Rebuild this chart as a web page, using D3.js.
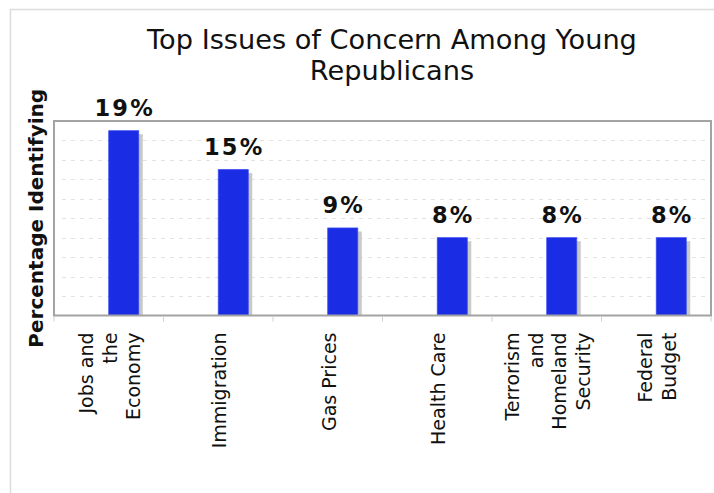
<!DOCTYPE html>
<html>
<head>
<meta charset="utf-8">
<script src="https://cdn.jsdelivr.net/npm/d3@7"></script>
<style>
  html, body { margin: 0; padding: 0; background: #fff; }
  svg { display: block; font-family: "DejaVu Sans", Verdana, sans-serif; }
</style>
</head>
<body>
<svg id="chart" width="714" height="493"></svg>
<script>
const titleLines = ["Top Issues of Concern Among Young", "Republicans"];
const yAxisTitle = "Percentage Identifying";
const categories = ["Jobs and\nthe\nEconomy", "Immigration", "Gas Prices", "Health Care", "Terrorism\nand\nHomeland\nSecurity", "Federal\nBudget"];
const values = [19, 15, 9, 8, 8, 8];
const valueLabels = ["19%", "15%", "9%", "8%", "8%", "8%"];
const yDomain = [0, 20];
const gridTicks = [2, 4, 6, 8, 10, 12, 14, 16, 18];

const W = 714, H = 493;
const m = { left: 54, right: 711, top: 121, bottom: 315.5 };
const svg = d3.select("#chart");

// outer frame
svg.append("rect").attr("x", 10.5).attr("y", 9.5).attr("width", W + 20).attr("height", H + 20)
  .attr("fill", "none").attr("stroke", "#dcdcdc").attr("stroke-width", 1.5);

const x = d3.scaleBand().domain(categories).range([m.left, m.right]).paddingInner(0).paddingOuter(0);
const y = d3.scaleLinear().domain(yDomain).range([m.bottom, m.top]);
const barW = 30;

// gridlines
svg.append("g").selectAll("line").data(gridTicks).join("line")
  .attr("x1", m.left + 8).attr("x2", m.right)
  .attr("y1", d => Math.round(y(d)) + 0.5).attr("y2", d => Math.round(y(d)) + 0.5)
  .attr("stroke", "#e2e2e2").attr("stroke-width", 1).attr("stroke-dasharray", "4,5");

// shadows
svg.append("g").selectAll("rect").data(values).join("rect")
  .attr("x", (d, i) => x(categories[i]) + x.bandwidth() / 2 + 4)
  .attr("y", d => y(d) + 3.5)
  .attr("width", barW)
  .attr("height", d => m.bottom - y(d) - 3.5)
  .attr("fill", "#c9c9c9");

// bars
svg.append("g").selectAll("rect").data(values).join("rect")
  .attr("x", (d, i) => x(categories[i]) + x.bandwidth() / 2)
  .attr("y", d => y(d))
  .attr("width", barW)
  .attr("height", d => m.bottom - y(d))
  .attr("fill", "#1a2ce4")
  .attr("stroke", "#3a4cf0").attr("stroke-width", 0.8);

// plot frame
svg.append("rect").attr("x", m.left).attr("y", m.top)
  .attr("width", m.right - m.left).attr("height", m.bottom - m.top)
  .attr("fill", "none").attr("stroke", "#a3a3a3").attr("stroke-width", 2);

// x axis ticks (band boundaries)
const bounds = categories.map(c => x(c)).concat([m.right]);
svg.append("g").selectAll("line").data(bounds).join("line")
  .attr("x1", d => d).attr("x2", d => d)
  .attr("y1", m.bottom + 1).attr("y2", m.bottom + 6)
  .attr("stroke", "#d0d0d0").attr("stroke-width", 1);

// value labels
svg.append("g").selectAll("text").data(values).join("text")
  .attr("x", (d, i) => x(categories[i]) + x.bandwidth() / 2 + barW / 2 + 1)
  .attr("y", d => y(d) - 14.5)
  .attr("text-anchor", "middle")
  .attr("font-size", 22.5).attr("font-weight", "bold")
  .attr("letter-spacing", 2.2)
  .attr("fill", "#111")
  .text((d, i) => valueLabels[i]);

// category labels
const fs = 19, lh = 23.5;
const cat = svg.append("g").selectAll("text").data(categories).join("text")
  .attr("transform", d => `translate(${x(d) + x.bandwidth() / 2 + 1},${m.bottom + 17}) rotate(-90)`)
  .attr("text-anchor", "end")
  .attr("font-size", fs)
  .attr("fill", "#111");
cat.each(function(d) {
  const lines = d.split("\n");
  const n = lines.length;
  d3.select(this).selectAll("tspan").data(lines).join("tspan")
    .attr("x", 0)
    .attr("y", (l, i) => (i - (n - 1) / 2) * lh + fs * 0.36)
    .text(l => l);
});

// y axis title
svg.append("text")
  .attr("transform", `translate(42.5,${(m.top + m.bottom) / 2}) rotate(-90)`)
  .attr("text-anchor", "middle")
  .attr("font-size", 20).attr("font-weight", "bold").attr("fill", "#111")
  .text(yAxisTitle);

// title
svg.append("g").selectAll("text").data(titleLines).join("text")
  .attr("x", 392).attr("y", (d, i) => 49 + i * 31)
  .attr("text-anchor", "middle")
  .attr("font-size", 27.2).attr("fill", "#111")
  .text(d => d);
</script>
</body>
</html>
